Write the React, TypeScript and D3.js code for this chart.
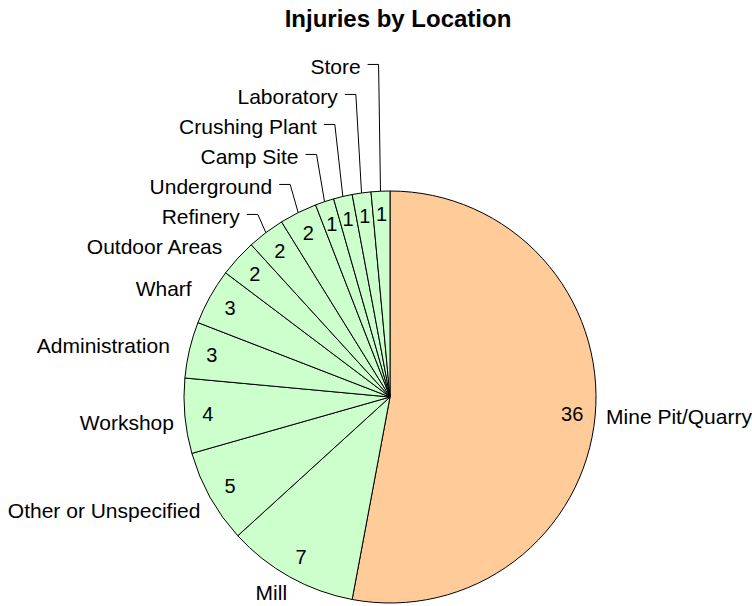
import React, { useEffect, useRef } from 'react';
import * as d3 from 'd3';

// slices, clockwise from 12 o'clock
const locations = [
  'Mine Pit/Quarry', 'Mill', 'Other or Unspecified', 'Workshop', 'Administration',
  'Wharf', 'Outdoor Areas', 'Refinery', 'Underground', 'Camp Site',
  'Crushing Plant', 'Laboratory', 'Store',
];
const injuries = [36, 7, 5, 4, 3, 3, 2, 2, 2, 1, 1, 1, 1];
const chartTitle = 'Injuries by Location';

const width = 752;
const height = 606;
const cx = 390;
const cy = 397;
const radius = 206;
const font = 'Liberation Sans, Arial, Helvetica, sans-serif';

const App = () => {
  const svgRef = useRef<SVGSVGElement>(null);

  useEffect(() => {
    const svg = d3.select(svgRef.current);
    svg.selectAll('*').remove();

    const data = locations.map((name, i) => ({ name, value: injuries[i] }));
    const pie = d3.pie<any>().value((d: any) => d.value).sort(null);
    const arcs = pie(data);
    const arc = d3.arc<any>().innerRadius(0).outerRadius(radius);

    // title
    svg.append('text')
      .attr('x', 398)
      .attr('y', 27)
      .attr('text-anchor', 'middle')
      .attr('font-family', font)
      .attr('font-weight', 'bold')
      .attr('font-size', 24)
      .text(chartTitle);

    const g = svg.append('g').attr('transform', `translate(${cx},${cy})`);

    g.selectAll('path.slice')
      .data(arcs)
      .join('path')
      .attr('class', 'slice')
      .attr('d', arc as any)
      .attr('fill', (d: any, i: number) => (i === 0 ? '#FFCC99' : '#CCFFCC'))
      .attr('stroke', '#000')
      .attr('stroke-width', 1);

    // values inside the slices
    const valueArc = d3.arc<any>().innerRadius(183).outerRadius(183);
    g.selectAll('text.val')
      .data(arcs)
      .join('text')
      .attr('class', 'val')
      .attr('transform', (d: any) => `translate(${valueArc.centroid(d)})`)
      .attr('text-anchor', 'middle')
      .attr('dy', '0.36em')
      .attr('font-family', font)
      .attr('font-size', 20)
      .text((d: any) => d.data.value);

    // outer labels: measure, place, then resolve overlaps
    const labels = arcs.map((d: any) => {
      const mid = (d.startAngle + d.endAngle) / 2;
      const dx = Math.sin(mid);
      const dy = -Math.cos(mid);
      const t = g.append('text')
        .attr('font-family', font)
        .attr('font-size', 21)
        .text(d.data.name);
      const w = (t.node() as SVGTextElement).getComputedTextLength();
      // upper-left labels sit a bit further out
      const rx = 217 + 10 * Math.min(1, Math.max(0, -dy * 4));
      const px = dx * rx;
      let anchor = dx < 0 ? 'end' : 'start';
      let x = px;
      if (Math.abs(dx) < 0.6) {
        anchor = 'middle';
        x = dx * 224 + dx * w / 2 - 2;
      }
      // lower-left labels hang a little below the ray, but stay on the page
      let y = dy * 222 + (dx < 0 && dy > 0 ? 6 : 0);
      y = Math.min(y, height - cy - 13);
      return { t, dx, dy, x, anchor, y, shifted: false };
    });

    // push left-side labels upward so they don't collide
    const left = labels.filter(l => l.dx < 0).sort((a, b) => b.y - a.y);
    for (let i = 1; i < left.length; i++) {
      if (left[i].y > left[i - 1].y - 30) {
        left[i].y = left[i - 1].y - 30;
        left[i].shifted = true;
      }
    }

    labels.forEach(l => {
      if (l.shifted) {
        const ax = l.dx * radius;
        const ay = l.dy * radius;
        const ex = ax - 8 * Math.min(1, Math.abs(ax) / 40);
        l.t.attr('x', ex - 18).attr('y', l.y + 7).attr('text-anchor', 'end');
        g.append('polyline')
          .attr('points', `${ex - 11},${l.y - 3} ${ex},${l.y - 3} ${ax},${ay}`)
          .attr('fill', 'none')
          .attr('stroke', '#000')
          .attr('stroke-width', 1);
      } else {
        l.t.attr('x', l.x).attr('y', l.y + 7).attr('text-anchor', l.anchor);
      }
    });
  }, []);

  return (
    <svg
      ref={svgRef}
      width={width}
      height={height}
      style={{ position: 'absolute', left: 0, top: 0, background: '#fff' }}
    />
  );
};

export default App;
